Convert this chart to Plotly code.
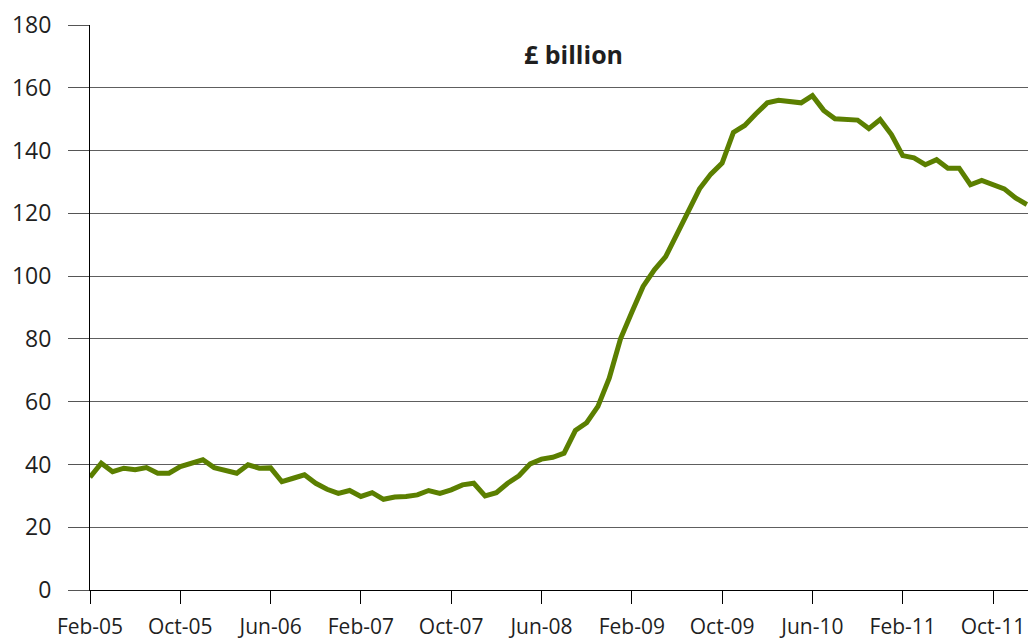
import pandas as pd
import plotly.graph_objects as go

# Monthly categories Feb-05 .. Jan-12
months = [d.strftime("%b-%y") for d in pd.date_range("2005-02-01", periods=84, freq="MS")]

values = [
    35.9, 40.4, 37.7, 38.8, 38.3, 39.0, 37.2, 37.2, 39.3, 40.4,
    41.5, 39.0, 38.3, 37.2, 39.9, 38.8, 38.9, 34.5, 35.6, 36.7,
    34.0, 32.1, 30.8, 31.7, 29.8, 31.0, 28.9, 29.6, 29.8, 30.3,
    31.7, 30.8, 31.9, 33.5, 34.0, 30.0, 31.0, 34.0, 36.4, 40.2,
    41.7, 42.3, 43.6, 50.8, 53.3, 58.5, 67.5, 80.0, 88.5, 96.7,
    102.0, 106.2, 113.4, 120.6, 127.8, 132.5, 136.0, 145.8, 148.0, 151.7,
    155.2, 156.0, 155.7, 155.2, 157.5, 152.8, 150.1, 149.9, 149.7, 147.0,
    149.9, 145.1, 138.4, 137.7, 135.5, 137.1, 134.4, 134.4, 129.1, 130.5,
    129.1, 127.8, 124.9, 122.8,
]

x_ticks = ["Feb-05", "Oct-05", "Jun-06", "Feb-07", "Oct-07", "Jun-08",
           "Feb-09", "Oct-09", "Jun-10", "Feb-11", "Oct-11"]
y_ticks = [0, 20, 40, 60, 80, 100, 120, 140, 160, 180]
title_text = "£ billion"

FONT = "Open Sans"
TXT = "#1f1f1f"

fig = go.Figure()
fig.add_trace(go.Scatter(
    x=months, y=values, mode="lines",
    line=dict(color="#5b7f00", width=5),
    hoverinfo="x+y",
))

fig.update_layout(
    width=1028, height=641,
    margin=dict(l=90, r=0, t=25, b=51),
    paper_bgcolor="white", plot_bgcolor="white",
    showlegend=False,
    font=dict(family=FONT, color=TXT),
    xaxis=dict(
        type="category",
        range=[0, 83.1],
        automargin=False,
        tickmode="array", tickvals=x_ticks, ticktext=x_ticks,
        showline=True, linecolor="black", linewidth=1,
        ticks="outside", ticklen=13, tickcolor="black", tickwidth=1,
        showgrid=False, zeroline=False,
        tickfont=dict(family=FONT, size=21, color=TXT),
        ticklabelstandoff=5,
    ),
    yaxis=dict(
        range=[0, 180],
        automargin=False,
        tickmode="array", tickvals=y_ticks,
        showline=True, linecolor="black", linewidth=1,
        ticks="outside", ticklen=21, tickcolor="#555555", tickwidth=1,
        showgrid=True, gridcolor="#5e5e5e", gridwidth=1,
        zeroline=False,
        tickfont=dict(family=FONT, size=23, color=TXT),
        ticklabelstandoff=12,
    ),
    annotations=[dict(
        text="<b>" + title_text + "</b>",
        xref="paper", yref="paper", x=0.515, y=0.948,
        xanchor="center", yanchor="middle", showarrow=False,
        font=dict(family=FONT, size=25, color=TXT),
    )],
)

fig.write_html("out.html", config={"displayModeBar": False},
               post_script="document.body.style.margin='0';")
